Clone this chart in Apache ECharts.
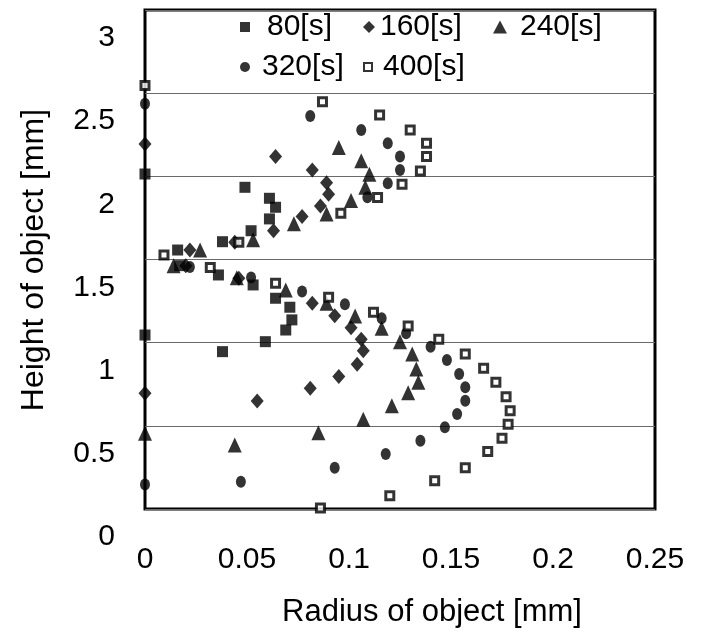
<!DOCTYPE html>
<html>
<head>
<meta charset="utf-8">
<script src="https://cdn.jsdelivr.net/npm/echarts@6/dist/echarts.min.js"></script>
<style>
  html, body { margin: 0; padding: 0; background: #fff; }
  #chart { width: 703px; height: 636px; }
</style>
</head>
<body>
<div id="chart"></div>
<script>
// ---- data (x = radius [mm], y = height [mm]) ----
const seriesNames = ['80[s]', '160[s]', '240[s]', '320[s]', '400[s]'];
const xTickLabels = ['0', '0.05', '0.1', '0.15', '0.2', '0.25'];
const yTickLabels = ['0', '0.5', '1', '1.5', '2', '2.5', '3'];

const s80 = [[0, 2.014], [0.049, 1.934], [0.061, 1.868], [0.064, 1.814], [0.061, 1.744], [0.052, 1.673],
  [0.038, 1.607], [0.016, 1.557], [0.017, 1.463], [0.036, 1.407], [0.053, 1.347], [0.064, 1.267],
  [0.071, 1.213], [0.072, 1.137], [0.069, 1.076], [0.059, 1.006], [0.038, 0.946], [0, 1.046]];

const s160 = [[0, 2.195], [0.064, 2.119], [0.082, 2.038], [0.089, 1.962], [0.090, 1.892], [0.086, 1.822],
  [0.077, 1.758], [0.063, 1.673], [0.044, 1.604], [0.022, 1.557], [0.020, 1.463], [0.046, 1.387],
  [0.082, 1.237], [0.093, 1.162], [0.101, 1.090], [0.106, 1.020], [0.107, 0.952], [0.104, 0.870],
  [0.095, 0.796], [0.081, 0.726], [0.055, 0.649], [0, 0.696]];

const s240 = [[0.095, 2.173], [0.106, 2.093], [0.110, 2.013], [0.108, 1.934], [0.101, 1.854], [0.089, 1.774],
  [0.073, 1.715], [0.053, 1.618], [0.027, 1.557], [0.014, 1.463], [0.045, 1.390], [0.069, 1.317],
  [0.089, 1.237], [0.103, 1.161], [0.116, 1.087], [0.125, 1.006], [0.131, 0.932], [0.133, 0.842],
  [0.134, 0.762], [0.129, 0.699], [0.121, 0.621], [0.107, 0.539], [0.085, 0.459], [0.044, 0.385],
  [0, 0.455]];

const s320 = [[0, 2.436], [0.081, 2.363], [0.106, 2.278], [0.119, 2.199], [0.125, 2.119], [0.125, 2.038],
  [0.119, 1.958], [0.109, 1.874], [0.022, 1.455], [0.052, 1.392], [0.077, 1.307], [0.098, 1.231],
  [0.116, 1.147], [0.128, 1.057], [0.140, 0.976], [0.148, 0.896], [0.154, 0.812], [0.157, 0.732],
  [0.157, 0.651], [0.153, 0.571], [0.147, 0.491], [0.135, 0.411], [0.118, 0.331], [0.093, 0.248],
  [0.047, 0.164], [0, 0.147]];

const s400 = [[0, 2.546], [0.087, 2.449], [0.115, 2.369], [0.130, 2.278], [0.138, 2.199], [0.138, 2.119],
  [0.135, 2.032], [0.126, 1.952], [0.114, 1.872], [0.096, 1.778], [0.046, 1.604], [0.0093, 1.527],
  [0.032, 1.452], [0.064, 1.357], [0.090, 1.273], [0.112, 1.183], [0.129, 1.100], [0.144, 1.020],
  [0.157, 0.932], [0.166, 0.846], [0.172, 0.762], [0.177, 0.675], [0.179, 0.591], [0.178, 0.509],
  [0.175, 0.425], [0.168, 0.345], [0.157, 0.248], [0.142, 0.170], [0.120, 0.080], [0.086, 0.006]];

const seriesData = [s80, s160, s240, s320, s400];

// ---- styling ----
const FONT = '"Liberation Sans", Arial, Helvetica, sans-serif';
const symbols = ['rect', 'diamond', 'triangle', 'circle', 'rect'];
const symbolSizes = [[11, 11], [13, 15], [14, 15], [10, 12], [8, 8]];
const itemStyles = [
  { color: '#000' },
  { color: '#000' },
  { color: '#000' },
  { color: '#000' },
  { color: '#fff', borderColor: '#000', borderWidth: 3 }
];

// legend placement (icon left, text-row top, icon size, extra text gap)
const legendPos = [
  { left: 240, top: 10, w: 10, h: 10, pad: 12 },
  { left: 363, top: 10, w: 12, h: 12, pad: 0 },
  { left: 493, top: 10, w: 14, h: 13, pad: 8 },
  { left: 240, top: 50, w: 10, h: 11, pad: 7 },
  { left: 363, top: 50, w: 8, h: 8, pad: 6 }
];

const chart = echarts.init(document.getElementById('chart'), null, { renderer: 'canvas' });

const option = {
  animation: false,
  backgroundColor: '#fff',
  grid: {
    left: 145, right: 48, top: 10, bottom: 127,
    show: true, borderColor: '#000', borderWidth: 3, backgroundColor: 'transparent'
  },
  legend: legendPos.map((p, i) => ({
    data: [seriesNames[i]],
    left: p.left, top: p.top,
    padding: 0,
    itemWidth: p.w, itemHeight: p.h,
    selectedMode: false,
    textStyle: {
      fontFamily: FONT, fontSize: 30, color: '#000', lineHeight: 34,
      padding: [0, 0, 0, p.pad]
    }
  })),
  xAxis: {
    type: 'value', min: 0, max: 0.25, interval: 0.05,
    axisLine: { show: false },
    axisTick: { show: false },
    splitLine: { show: false },
    axisLabel: {
      margin: 36, fontFamily: FONT, fontSize: 30, color: '#000', lineHeight: 30,
      showMinLabel: true, showMaxLabel: true,
      formatter: (v) => xTickLabels[Math.round(v / 0.05)]
    }
  },
  yAxis: {
    type: 'value', min: 0, max: 3, interval: 0.5,
    axisLine: { show: false },
    axisTick: { show: false },
    splitLine: { show: true, lineStyle: { color: '#6a6a6a', width: 1 } },
    axisLabel: {
      margin: 30, fontFamily: FONT, fontSize: 30, color: '#000',
      verticalAlign: 'top', lineHeight: 56,
      showMinLabel: true, showMaxLabel: true, hideOverlap: false,
      formatter: (v) => yTickLabels[Math.round(v / 0.5)]
    }
  },
  graphic: [
    {
      type: 'text', x: 432, y: 612,
      style: { text: 'Radius of object [mm]', font: '31px ' + FONT, fill: '#000', align: 'center', verticalAlign: 'middle' }
    },
    {
      type: 'text', x: 34, y: 260, rotation: Math.PI / 2,
      style: { text: 'Height of object [mm]', font: '32px ' + FONT, fill: '#000', align: 'center', verticalAlign: 'middle' }
    }
  ],
  series: seriesData.map((d, i) => ({
    name: seriesNames[i],
    type: 'scatter',
    data: d,
    symbol: symbols[i],
    symbolSize: symbolSizes[i],
    itemStyle: itemStyles[i],
    clip: false,
    emphasis: { disabled: true }
  }))
};

chart.setOption(option);
</script>
</body>
</html>
